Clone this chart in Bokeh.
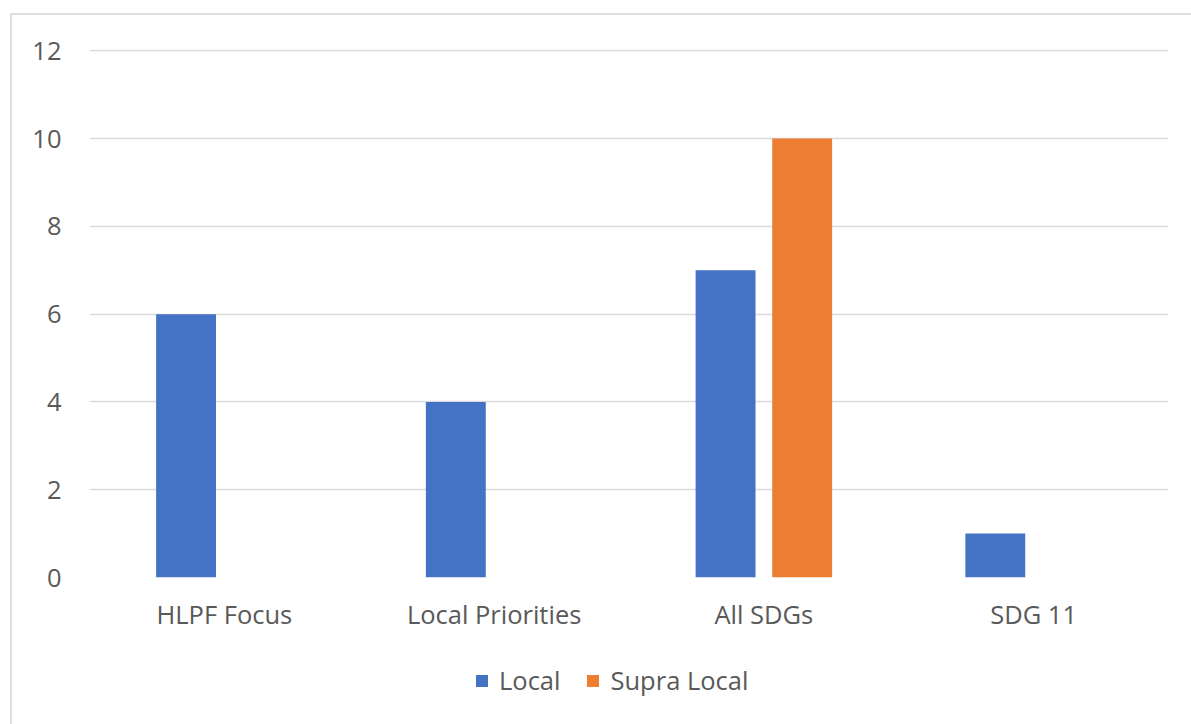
from bokeh.plotting import figure
from bokeh.layouts import column
from bokeh.models import FactorRange, Range1d, Legend, LegendItem, ColumnDataSource, FixedTicker
from bokeh.transform import dodge
from bokeh.embed import file_html
from bokeh.resources import INLINE

categories = ["HLPF Focus", "Local Priorities", "All SDGs", "SDG 11"]
local = [6, 4, 7, 1]
supra_local = [0, 0, 10, 0]
series_names = ["Local", "Supra Local"]
y_ticks = [0, 2, 4, 6, 8, 10, 12]

FONT = "Open Sans"
TXT = "#595959"
GRID = "#d9d9d9"
FS = "25.5px"
BLUE = "#4472C4"
ORANGE = "#ED7D31"

src = ColumnDataSource(dict(cat=categories, local=local, supra=supra_local))

p = figure(
    x_range=FactorRange(*categories),
    y_range=Range1d(0, 12.03),
    width=1179, height=620,
    output_backend="svg", toolbar_location=None,
    min_border_left=77, min_border_right=23, min_border_top=34, min_border_bottom=58,
)
p.outline_line_color = None
p.border_fill_color = "white"

r1 = p.vbar(x=dodge("cat", -0.142, range=p.x_range), top="local", width=0.222,
            source=src, fill_color=BLUE, line_color=None)
r2 = p.vbar(x=dodge("cat", 0.142, range=p.x_range), top="supra", width=0.222,
            source=src, fill_color=ORANGE, line_color=None)

p.xgrid.grid_line_color = None
p.ygrid.grid_line_color = GRID
p.ygrid.grid_line_width = 1.5
p.yaxis.ticker = FixedTicker(ticks=y_ticks)

for ax in (p.xaxis, p.yaxis):
    ax.axis_line_color = None
    ax.major_tick_line_color = None
    ax.minor_tick_line_color = None
    ax.major_label_text_font = FONT
    ax.major_label_text_font_size = FS
    ax.major_label_text_color = TXT

p.yaxis.major_label_standoff = 22
p.xaxis.major_label_standoff = 13

# Legend strip below the chart (bars are outside its y range, only the legend shows)
q = figure(
    x_range=p.x_range, y_range=Range1d(100, 101),
    width=1179, height=89,
    output_backend="svg", toolbar_location=None,
    x_axis_location=None, y_axis_location=None,
    min_border=0,
)
q.outline_line_color = None
q.grid.grid_line_color = None
q1 = q.vbar(x=dodge("cat", -0.142, range=q.x_range), top="local", width=0.222,
            source=src, fill_color=BLUE, line_color=None)
q2 = q.vbar(x=dodge("cat", 0.142, range=q.x_range), top="supra", width=0.222,
            source=src, fill_color=ORANGE, line_color=None)

legend = Legend(
    items=[LegendItem(label=series_names[0], renderers=[q1]),
           LegendItem(label=series_names[1], renderers=[q2])],
    orientation="horizontal",
    location=(385, 27),
    label_text_font=FONT, label_text_font_size=FS, label_text_color=TXT,
    glyph_width=15, glyph_height=15, label_standoff=10, spacing=25,
    padding=0, margin=0, border_line_color=None, background_fill_alpha=0,
)
q.add_layout(legend, "center")

layout = column(p, q, spacing=0)
layout.margin = (13, 0, 0, 10)
layout.styles = {"border-left": "2px solid #dedede", "border-top": "2px solid #dedede"}

open("out.html", "w").write(file_html(layout, INLINE))
